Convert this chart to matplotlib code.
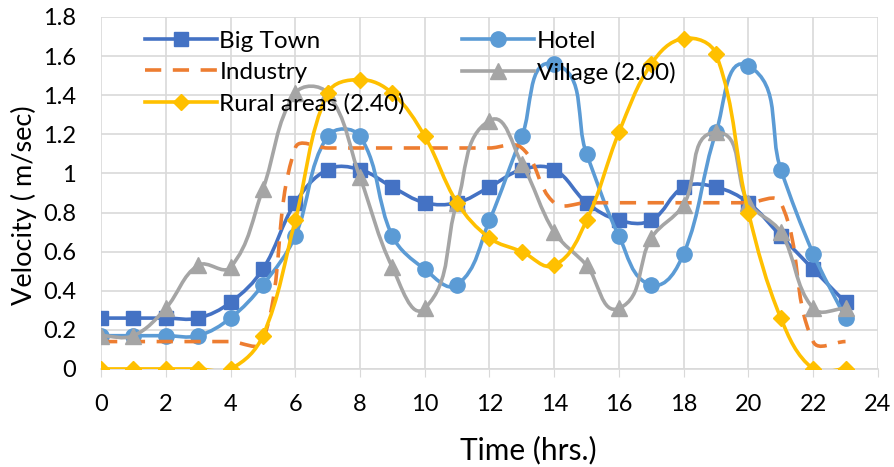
import numpy as np
import matplotlib
matplotlib.use("Agg")
import matplotlib.pyplot as plt
from matplotlib.path import Path
from matplotlib.patches import PathPatch
from matplotlib.lines import Line2D

plt.rcParams['font.family'] = ['Lato', 'DejaVu Sans']

# hours 0..23
hours = list(range(24))
big_town = [0.26, 0.26, 0.26, 0.26, 0.34, 0.51, 0.85, 1.02, 1.02, 0.93, 0.85, 0.85,
            0.93, 1.02, 1.02, 0.85, 0.76, 0.76, 0.93, 0.93, 0.85, 0.68, 0.51, 0.34]
hotel = [0.17, 0.17, 0.17, 0.17, 0.26, 0.43, 0.68, 1.19, 1.19, 0.68, 0.51, 0.43,
         0.76, 1.19, 1.56, 1.10, 0.68, 0.43, 0.59, 1.21, 1.55, 1.02, 0.59, 0.26]
industry = [0.14, 0.14, 0.14, 0.14, 0.14, 0.14, 1.13, 1.13, 1.13, 1.13, 1.13, 1.13,
            1.13, 1.13, 0.85, 0.85, 0.85, 0.85, 0.85, 0.85, 0.85, 0.85, 0.14, 0.14]
village = [0.17, 0.17, 0.31, 0.53, 0.52, 0.92, 1.41, 1.41, 0.98, 0.52, 0.31, 0.85,
           1.27, 1.05, 0.70, 0.53, 0.31, 0.67, 0.84, 1.21, 0.85, 0.70, 0.31, 0.31]
rural = [0.0, 0.0, 0.0, 0.0, 0.0, 0.17, 0.76, 1.41, 1.48, 1.41, 1.19, 0.85,
         0.67, 0.60, 0.53, 0.76, 1.21, 1.56, 1.69, 1.61, 0.80, 0.26, 0.0, 0.0]

x_ticks = list(range(0, 25, 2))
y_ticks = [0, 0.2, 0.4, 0.6, 0.8, 1.0, 1.2, 1.4, 1.6, 1.8]
y_tick_labels = ['0', '0.2', '0.4', '0.6', '0.8', '1', '1.2', '1.4', '1.6', '1.8']

fig = plt.figure(figsize=(8.94, 4.67), dpi=100)
ax = fig.add_axes([0.113, 0.21, 0.869, 0.7536])
ax.set_xlim(0, 24)
ax.set_ylim(0, 1.8)


def smooth_path(x, y, k=0.36):
    # excel-like smoothing: bezier segments, tangent along neighbour chord,
    # handle length scaled by the segment length (in screen space)
    tr = ax.transData
    p = tr.transform(np.column_stack([x, y]).astype(float))
    n = len(p)
    tang = []
    for i in range(n):
        d = p[min(i + 1, n - 1)] - p[max(i - 1, 0)]
        tang.append(d / np.hypot(*d))
    verts = [p[0]]
    codes = [Path.MOVETO]
    for i in range(n - 1):
        seg = np.hypot(*(p[i + 1] - p[i]))
        verts += [p[i] + tang[i] * seg * k, p[i + 1] - tang[i + 1] * seg * k, p[i + 1]]
        codes += [Path.CURVE4] * 3
    verts = tr.inverted().transform(np.array(verts))
    return Path(verts, codes)


series = [
    ('Big Town', big_town, '#4472C4', 's', '-', 10),
    ('Hotel', hotel, '#5B9BD5', 'o', '-', 11),
    ('Industry', industry, '#ED7D31', None, (0, (4.5, 3.2)), 0),
    ('Village (2.00)', village, '#A5A5A5', '^', '-', 11),
    ('Rural areas (2.40)', rural, '#FFC000', 'D', '-', 8.5),
]

handles = {}
for z, (name, vals, col, mk, ls, ms) in enumerate(series):
    patch = PathPatch(smooth_path(hours, vals), fill=False, edgecolor=col,
                      lw=2.6, linestyle=ls, capstyle='butt', zorder=3 + z)
    ax.add_patch(patch)
    if mk:
        ax.plot(hours, vals, linestyle='none', marker=mk, ms=ms, color=col,
                zorder=3 + z)
    handles[name] = Line2D([], [], color=col, lw=2.6, linestyle=ls,
                           marker=mk if mk else None, ms=ms)

ax.set_xticks(x_ticks)
ax.set_yticks(y_ticks)
ax.set_yticklabels(y_tick_labels)
ax.grid(True, color='#D9D9D9', lw=1.2)
ax.set_axisbelow(True)
for s in ['top', 'right', 'left']:
    ax.spines[s].set_visible(False)
ax.spines['bottom'].set_color('#D9D9D9')
ax.spines['bottom'].set_linewidth(1.2)
ax.tick_params(axis='y', length=0, labelsize=17, pad=18)
ax.tick_params(axis='x', length=6, color='#D9D9D9', labelsize=17, pad=12)

ax.set_xlabel('Time (hrs.)', fontsize=21.5)
ax.set_ylabel('Velocity ( m/sec)', fontsize=19.5)
ax.xaxis.set_label_coords(0.55, -0.19)
ax.yaxis.set_label_coords(-0.082, 0.466)

order = ['Big Town', 'Industry', 'Rural areas (2.40)', 'Hotel', 'Village (2.00)']
leg = ax.legend([handles[k] for k in order], order, ncol=2, loc='upper left',
                bbox_to_anchor=(0.041, 0.996), frameon=False, fontsize=17.5,
                handlelength=2.96, handletextpad=0.1, columnspacing=2.35,
                labelspacing=0.42, borderpad=0)
leg.set_zorder(20)

fig.savefig('out.png', dpi=100)
